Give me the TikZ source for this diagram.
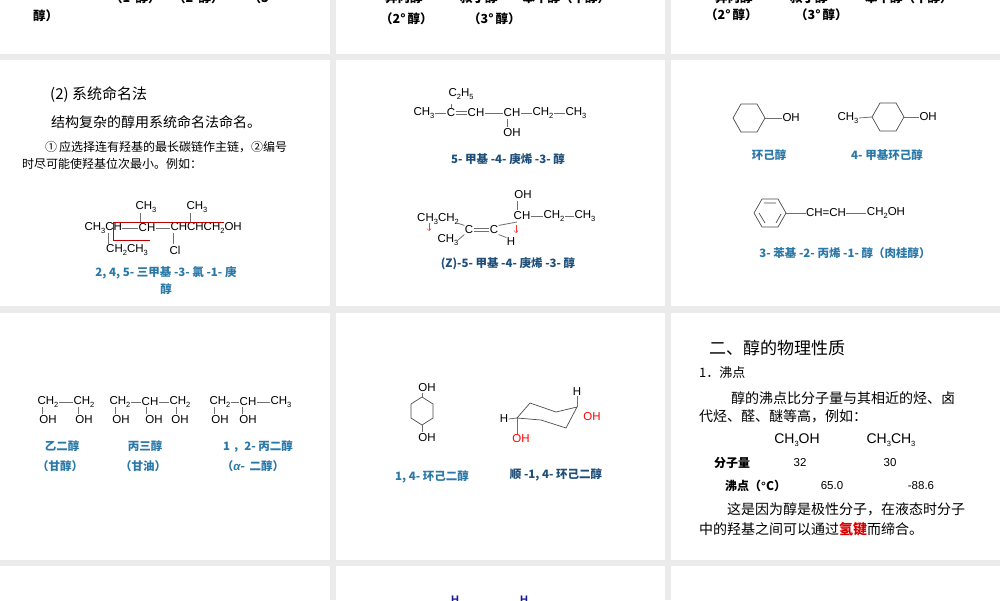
\documentclass[tikz,border=0pt]{standalone}
\usepackage{fontspec}
\usetikzlibrary{arrows.meta}
\setmainfont{Liberation Sans}
\newfontfamily\cjk{Noto Sans CJK SC}
\newfontfamily\chemf{Liberation Sans}
\newcommand\sbx[1]{\raisebox{-0.4ex}{\fontsize{7.5}{7.5}\selectfont #1}}
\definecolor{panelgray}{HTML}{EBEBEB}
\definecolor{capblue}{HTML}{2A78A8}
\definecolor{darkblue}{HTML}{1F4E79}
\definecolor{hblue}{HTML}{1A1AA0}
\definecolor{bondgray}{HTML}{707070}
\begin{document}
\begin{tikzpicture}[x=1pt,y=-1pt,
  chem/.style={font=\chemf\fontsize{11.5}{11.5}\selectfont,inner sep=0.3pt},
  bond/.style={draw=bondgray,line width=0.8pt},
  ring/.style={draw=black!70,line width=0.7pt},
  capb/.style={font=\cjk\bfseries\fontsize{11.5}{11.5}\selectfont,text=capblue,inner sep=0pt},
  capd/.style={font=\cjk\bfseries\fontsize{11.5}{11.5}\selectfont,text=darkblue,inner sep=0pt},
  body/.style={font=\cjk\fontsize{13}{13}\selectfont,inner sep=0pt,anchor=west},
  topt/.style={font=\cjk\bfseries\fontsize{12.5}{12.5}\selectfont,inner sep=0pt,anchor=west}]
\useasboundingbox (0,0) rectangle (1000,600);
\clip (0,0) rectangle (1000,600);
\fill[panelgray] (0,0) rectangle (1000,600);
\foreach \xa/\xb in {0/330,336/665,671/1000}{
  \foreach \ya/\yb in {-5/54,60/306,313/560,566/605}{
    \fill[white] (\xa,\ya) rectangle (\xb,\yb);}}
% ---- top row (cut) ----
\node[topt] (t1) at (110,-2) {（1°醇）\quad （2°醇）\qquad （3°};
\node[topt] (t2) at (33,16) {醇）};
\node[topt] (t3) at (385,-2) {异丙醇\qquad\quad 叔丁醇\qquad 苯甲醇（卞醇）};
\node[topt] (t4) at (380,19) {（2°\,醇）};
\node[topt] (t5) at (468,19) {（3°\,醇）};
\node[topt] (t6) at (715,-2) {异丙醇\qquad\quad 叔丁醇\qquad\quad 苯甲醇（卞醇）};
\node[topt] (t7) at (705,15) {（2°\,醇）};
\node[topt] (t8) at (795,15) {（3°\,醇）};
% ---- row2 col1 ----
\node[font=\cjk\fontsize{15}{15}\selectfont,anchor=west,inner sep=0pt] (h1) at (50,95) {(2) 系统命名法};
\node[body,font=\cjk\fontsize{14}{14}\selectfont] (b1) at (51,122) {结构复杂的醇用系统命名法命名。};
\node[body,font=\cjk\fontsize{12}{12}\selectfont] (b2) at (45,147) {①\,应选择连有羟基的最长碳链作主链，②编号};
\node[body,font=\cjk\fontsize{12}{12}\selectfont] (b3) at (22,164) {时尽可能使羟基位次最小。例如：};
\node[chem,anchor=west] (m1) at (84,228) {CH\sbx{3}CH};
\node[chem] (m2) at (147,228) {CH};
\node[chem,anchor=west] (m3) at (170,228) {CHCHCH\sbx{2}OH};
\node[chem] (m4) at (146,207) {CH\sbx{3}};
\node[chem] (m5) at (197,207) {CH\sbx{3}};
\node[chem] (m6) at (127,250) {CH\sbx{2}CH\sbx{3}};
\node[chem] (m7) at (175,250) {Cl};
\draw[bond] (m1.east) -- (m2.west);
\draw[bond] (m2.east) -- (m3.west);
\draw[bond] (140,213) -- (140,222);
\draw[bond] (190,213) -- (190,222);
\draw[bond] (108,233) -- (108,244);
\draw[bond] (173,233) -- (173,244);
\draw[red!75!black,line width=0.6pt] (150,240) -- (113,240) -- (113,222) -- (224,222);
\node[capb] (c1) at (166,273) {2, 4, 5- 三甲基 -3- 氯 -1- 庚};
\node[capb] (c2) at (166,289) {醇};
% ---- row2 col2 ----
\node[chem] (a1) at (461,94) {C\sbx{2}H\sbx{5}};
\node[chem] (a2) at (424,113) {CH\sbx{3}};
\node[chem] (a3) at (451,113) {C};
\node[chem] (a4) at (476,113) {CH};
\node[chem] (a5) at (512,113) {CH};
\node[chem] (a6) at (543,113) {CH\sbx{2}};
\node[chem] (a7) at (576,113) {CH\sbx{3}};
\node[chem] (a8) at (512,133) {OH};
\draw[bond] (a2.east) -- (a3.west);
\draw[bond] ([yshift=-1.5]a3.east) -- ([yshift=-1.5]a4.west);
\draw[bond] ([yshift=1.5]a3.east) -- ([yshift=1.5]a4.west);
\draw[bond] (a4.east) -- (a5.west);
\draw[bond] (a5.east) -- (a6.west);
\draw[bond] (a6.east) -- (a7.west);
\draw[bond] (451,104) -- (a3.north);
\draw[bond] (507,119) -- (507,127);
\node[capd] (c3) at (508,159) {5- 甲基 -4- 庚烯 -3- 醇};
\node[chem] (z1) at (523,195) {OH};
\node[chem] (z2) at (522,216) {CH};
\node[chem] (z3) at (554,216) {CH\sbx{2}};
\node[chem] (z4) at (585,216) {CH\sbx{3}};
\node[chem] (z5) at (438,219) {CH\sbx{3}CH\sbx{2}};
\node[chem] (z6) at (448,240) {CH\sbx{3}};
\node[chem] (z7) at (469,230) {C};
\node[chem] (z8) at (494,230) {C};
\node[chem] (z9) at (511,242) {H};
\draw[bond] (517,201) -- (517,210);
\draw[bond] (z2.east) -- (z3.west);
\draw[bond] (z3.east) -- (z4.west);
\draw[bond] ([yshift=-1.5]z7.east) -- ([yshift=-1.5]z8.west);
\draw[bond] ([yshift=1.5]z7.east) -- ([yshift=1.5]z8.west);
\draw[bond] (457,223) -- (z7.north west);
\draw[bond] (458,240) -- (z7.south west);
\draw[bond] (z8.north east) -- (517,222);
\draw[bond] (z8.south east) -- (z9.north west);
\draw[red!80,line width=0.5pt,-{Straight Barb[length=2pt]}] (429,223) -- (429,231);
\draw[red!80,line width=0.5pt,-{Straight Barb[length=2pt]}] (516,225) -- (516,233);
\node[capd] (c4) at (508,264) {(Z)-5- 甲基 -4- 庚烯 -3- 醇};
% ---- row2 col3 ----
\draw[ring] (765,118) coordinate (r1) -- (757,104) -- (741,104) -- (733,118) -- (741,132) -- (757,132) -- cycle;
\node[chem,anchor=west] (o1) at (782,118) {OH};
\draw[bond] (r1) -- (o1.west);
\node[chem] (me) at (848,118) {CH\sbx{3}};
\draw[ring] (904,117) coordinate (r2) -- (896,103) -- (880,103) -- (872,117) coordinate (r3) -- (880,131) -- (896,131) -- cycle;
\node[chem,anchor=west] (o2) at (919,117) {OH};
\draw[bond] (me.east) -- (r3);
\draw[bond] (r2) -- (o2.west);
\node[capb] (c5) at (769,155) {环己醇};
\node[capb] (c6) at (887,155) {4- 甲基环己醇};
\draw[ring] (786,213) coordinate (r4) -- (778,199) -- (762,199) -- (754,213) -- (762,227) -- (778,227) -- cycle;
\draw[ring] (776,203) -- (764,203) (759,213) -- (765,223) (776,223) -- (781,214);
\node[chem] (p1) at (826,213) {CH=CH};
\node[chem] (p2) at (886,213) {CH\sbx{2}OH};
\draw[bond] (r4) -- (p1.west);
\draw[bond] (p1.east) -- (p2.west);
\node[capb] (c7) at (845,253) {3- 苯基 -2- 丙烯 -1- 醇（肉桂醇）};
% ---- row3 col1 ----
\foreach \n/\x/\t in {g1/48/CH\sbx{2},g2/84/CH\sbx{2},g3/120/CH\sbx{2},g4/150/CH,g5/180/CH\sbx{2},g6/220/CH\sbx{2},g7/248/CH,g8/281/CH\sbx{3}}
  \node[chem] (\n) at (\x,402) {\t};
\foreach \n/\x in {q1/48,q2/84,q3/121,q4/154,q5/180,q6/220,q7/248}
  \node[chem] (\n) at (\x,420) {OH};
\draw[bond] (g1.east) -- (g2.west) (g3.east) -- (g4.west) (g4.east) -- (g5.west)
  (g6.east) -- (g7.west) (g7.east) -- (g8.west);
\foreach \x in {42,78,115,146,176,214,242} \draw[bond] (\x,407) -- (\x,414);
\node[capb] (c8) at (62,446) {乙二醇};
\node[capb] (c9) at (60,466) {（甘醇）};
\node[capb] (c10) at (145,446) {丙三醇};
\node[capb] (c11) at (143,466) {（甘油）};
\node[capb] (c12) at (258,446) {1 ，2- 丙二醇};
\node[capb] (c13) at (253,466) {（{\chemf\bfseries\itshape α}-\, 二醇）};
% ---- row3 col2 ----
\node[chem] (v1) at (427,388) {OH};
\node[chem] (v2) at (427,438) {OH};
\draw[ring] (422,397) coordinate (v3) -- (433,404) -- (433,418) -- (422,425) coordinate (v4) -- (411,418) -- (411,404) -- cycle;
\draw[bond] (v3) -- (422,393);
\draw[bond] (v4) -- (422,432);
\coordinate (k1) at (530,403); \coordinate (k2) at (556,412); \coordinate (k3) at (577,407);
\coordinate (k4) at (566,428); \coordinate (k5) at (541,420); \coordinate (k6) at (517,418);
\draw[ring] (k1) -- (k2) -- (k3) -- (k4) -- (k5) -- (k6) -- cycle;
\node[chem] (w1) at (577,392) {H};
\node[chem,text=red] (w2) at (592,417) {OH};
\node[chem] (w3) at (504,419) {H};
\node[chem,text=red] (w4) at (521,439) {OH};
\draw[bond] (k3) -- (w1.south);
\draw[bond] (k6) -- (w3.east);
\draw[bond] (k6) -- ([xshift=-4]w4.north);
\node[capb] (c14) at (432,477) {1, 4- 环己二醇};
\node[capd] (c15) at (556,475) {顺 -1, 4- 环己二醇};
% ---- row3 col3 ----
\node[body,font=\cjk\fontsize{17}{17}\selectfont] (s1) at (709,348) {二、醇的物理性质};
\node[body] (s2) at (699,373) {1．沸点};
\node[body,font=\cjk\fontsize{14}{14}\selectfont] (s3) at (731,398) {醇的沸点比分子量与其相近的烃、卤};
\node[body,font=\cjk\fontsize{14}{14}\selectfont] (s4) at (699,416) {代烃、醛、醚等高，例如：};
\node[chem,font=\chemf\fontsize{14}{14}\selectfont] (s5) at (797,440) {CH\sbx{3}OH};
\node[chem,font=\chemf\fontsize{14}{14}\selectfont] (s6) at (891,440) {CH\sbx{3}CH\sbx{3}};
\node[body,font=\cjk\bfseries\fontsize{12}{12}\selectfont] (s7) at (714,463) {分子量};
\node[chem] (s8) at (800,463) {32};
\node[chem] (s9) at (890,463) {30};
\node[body,font=\cjk\bfseries\fontsize{12}{12}\selectfont] (s10) at (725,486) {沸点（{\chemf °}C）};
\node[chem] (s11) at (832,486) {65.0};
\node[chem] (s12) at (921,486) {-88.6};
\node[body,font=\cjk\fontsize{14}{14}\selectfont] (s13) at (727,509) {这是因为醇是极性分子，在液态时分子};
\node[body,font=\cjk\fontsize{14}{14}\selectfont] (s14) at (699,529) {中的羟基之间可以通过\textcolor{red!85!black}{\bfseries 氢键}而缔合。};
% ---- row4 ----
\node[chem,text=hblue,font=\chemf\bfseries\fontsize{11}{11}\selectfont] (u1) at (455,600) {H};
\node[chem,text=hblue,font=\chemf\bfseries\fontsize{11}{11}\selectfont] (u2) at (524,600) {H};
\end{tikzpicture}
\end{document}
